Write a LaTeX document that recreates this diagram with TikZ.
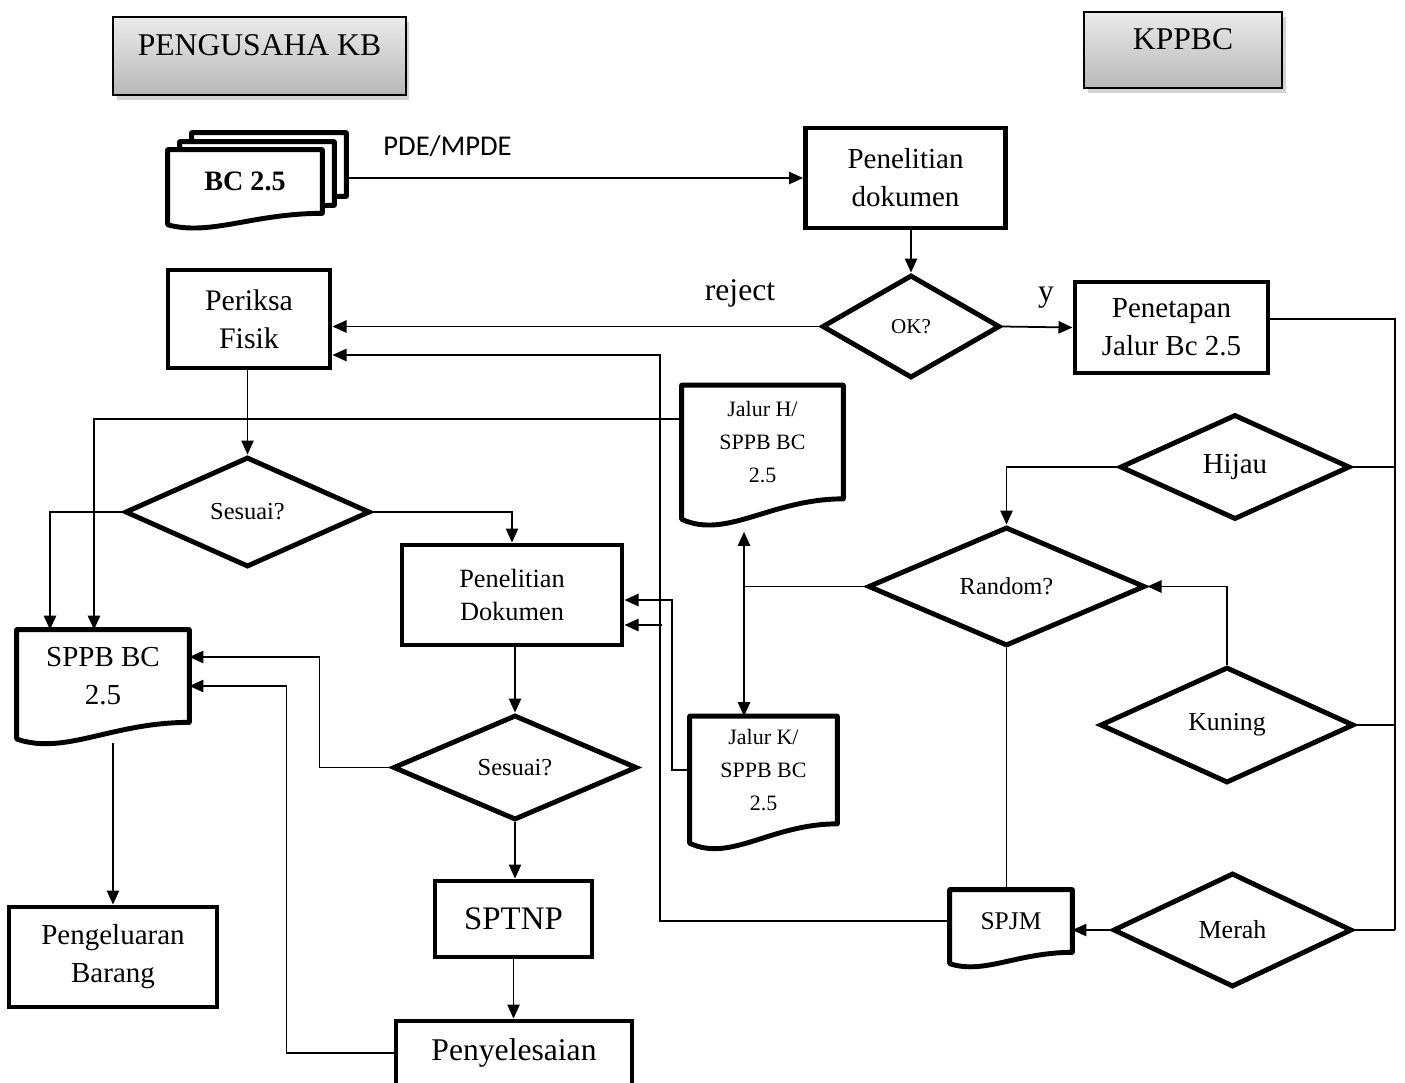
\documentclass[tikz,border=0pt]{standalone}
\usepackage{fontspec}
\setmainfont{Liberation Serif}
\newfontfamily\calfont{Carlito}
\usetikzlibrary{shapes.geometric,arrows.meta,calc,shadows,backgrounds}

\newcommand\fsBig{\fontsize{18}{22}\selectfont}
\newcommand\fsMid{\fontsize{16.5}{21.6}\selectfont}
\newcommand\fsSml{\fontsize{13.9}{17}\selectfont}
\newcommand\fsDoc{\fontsize{12.5}{18.8}\selectfont}

% document symbol with wavy bottom, drawn behind the node text
\newcommand\docwave[1]{%
  \begin{pgfonlayer}{background}
  \draw[docline] let \p1=(#1.north west), \p2=(#1.south east),
    \n1={\x2-\x1}, \n2={\y1-\y2} in
    (\p1) -- (\x2,\y1) -- (\p2)
    .. controls (\x2-0.45*\n1,\y2) and (\x1+0.28*\n1,\y2-0.36*\n2)
    .. (\x1,\y2-0.18*\n2) -- cycle;
  \end{pgfonlayer}}

\begin{document}
\begin{tikzpicture}[x=0.02cm, y=-0.02cm,
      box/.style={rectangle, draw, line width=2.8pt, align=center, font=\fsMid},
      dec/.style={diamond, draw, line width=2.8pt, inner sep=0pt, align=center, font=\fsSml},
      doc/.style={rectangle, inner sep=0pt, align=center, font=\fsDoc},
      docline/.style={draw, fill=white, line width=2.8pt, line join=round},
      head/.style={rectangle, draw, line width=1pt, top color=white!92!black, bottom color=black!28,
        drop shadow={opacity=0.35, shadow xshift=2pt, shadow yshift=-3pt}, font=\fsBig},
      conn/.style={line width=1pt},
      arrow/.style={line width=1pt, -{Triangle[length=8pt, width=7pt]}}
    ]
      \useasboundingbox (0,0) rectangle (1405,1082);

      % headers
      \node[head, minimum width=5.86cm, minimum height=1.56cm] (kb)    at (259.5,56) {\raisebox{13pt}{PENGUSAHA KB}};
      \node[head, minimum width=3.96cm, minimum height=1.52cm] (kppbc) at (1183,50)  {\raisebox{12pt}{KPPBC}};

      % pengusaha side
      \node[doc, minimum width=3.08cm, minimum height=1.26cm] (bcc) at (269,164.5) {};
      \node[doc, minimum width=3.08cm, minimum height=1.26cm] (bcb) at (257,173.5) {};
      \node[doc, minimum width=3.08cm, minimum height=1.26cm, font=\bfseries\fontsize{16}{20}\selectfont] (bca) at (245,181.5) {BC 2.5};
      \docwave{bcc} \docwave{bcb} \docwave{bca}

      \node[box, minimum width=3.24cm, minimum height=1.96cm, font=\fontsize{17}{21.6}\selectfont] (periksa) at (249,319) {Periksa\\Fisik};
      \node[dec, minimum width=4.9cm, minimum height=2.2cm] (ses1) at (247.5,512) {Sesuai?};
      \node[doc, minimum width=3.44cm, minimum height=1.84cm, font=\fsMid] (sppb) at (103,676) {SPPB BC\\2.5};
      \docwave{sppb}
      \node[box, minimum width=4.16cm, minimum height=2cm] (keluar) at (113,957) {Pengeluaran\\Barang};
      \node[box, minimum width=4.4cm, minimum height=2cm, font=\fontsize{15}{19.3}\selectfont] (pendok2) at (512,595) {Penelitian\\Dokumen};
      \node[dec, minimum width=4.88cm, minimum height=2.1cm] (ses2) at (515,767.5) {Sesuai?};
      \node[box, minimum width=3.14cm, minimum height=1.52cm, font=\fontsize{18.7}{22}\selectfont] (sptnp) at (513.5,919) {SPTNP};
      \node[box, minimum width=4.72cm, minimum height=1.28cm, font=\fsBig] (penyel) at (514,1053) {Penyelesaian};

      % kppbc side
      \node[box, minimum width=4cm, minimum height=2cm] (pendok) at (905.5,178) {Penelitian\\dokumen};
      \node[dec, minimum width=3.56cm, minimum height=2.06cm, font=\fontsize{12}{14}\selectfont] (ok) at (911,326.5) {OK?};
      \node[box, minimum width=3.86cm, minimum height=1.82cm] (tetap) at (1171.5,327.5) {Penetapan\\Jalur Bc 2.5};
      \node[dec, minimum width=4.6cm, minimum height=2.1cm, font=\fsMid] (hijau) at (1235,467) {Hijau};
      \node[dec, minimum width=5.08cm, minimum height=2.32cm, font=\fontsize{14.7}{18}\selectfont] (kuning) at (1227,725) {Kuning};
      \node[dec, minimum width=4.78cm, minimum height=2.28cm, font=\fontsize{14.8}{18}\selectfont] (merah) at (1232.5,930) {Merah};
      \node[dec, minimum width=5.54cm, minimum height=2.38cm] (rnd) at (1006.5,586.5) {Random?};
      \node[doc, minimum width=3.22cm, minimum height=2.26cm] (jalurH) at (762.5,442) {Jalur H/\\SPPB BC\\2.5};
      \node[doc, minimum width=2.94cm, minimum height=2.14cm] (jalurK) at (763.5,770) {Jalur K/\\SPPB BC\\2.5};
      \node[doc, minimum width=2.44cm, minimum height=1.24cm, font=\fontsize{14.5}{18}\selectfont] (spjm) at (1011,921) {SPJM};
      \docwave{jalurH} \docwave{jalurK} \docwave{spjm}

      % labels
      \node[font=\calfont\fontsize{16.3}{20}\selectfont] (pde) at (447.5,146) {PDE/MPDE};
      \node[font=\fsBig] (reject) at (740,293) {reject};
      \node[font=\fsBig] (ya)     at (1046,298) {y};

      % connectors
      \draw[arrow] (bcc.east |- pendok.west) -- (pendok.west);
      \draw[arrow] (ok.north |- pendok.south) -- (ok.north);
      \draw[arrow] (ok.west) -- (ok.west -| periksa.east);
      \draw[arrow] (ok.east) -- (tetap.west);

      \coordinate (bustop) at (1395,319);
      \coordinate (busbot) at (1395,930);
      \draw[conn] (tetap.east |- bustop) -- (bustop) -- (busbot);
      \draw[conn] (hijau.east) -- (hijau.east -| bustop);
      \draw[conn] (kuning.east) -- (kuning.east -| bustop);
      \draw[conn] (merah.east) -- (busbot);

      \draw[arrow] (hijau.west) -| (rnd.north);
      \draw[arrow] (kuning.north) |- (rnd.east);
      \draw[arrow] (merah.west) -- (merah.west -| spjm.east);
      \draw[conn] (rnd.south) -- (rnd.south |- spjm.north);

      \coordinate (split) at (744,586.5);
      \draw[conn] (rnd.west) -- (split);
      \draw[arrow] (split) -- ($(split |- jalurH.south)+(0,33)$);
      \draw[arrow] (split) -- (split |- jalurK.north);

      \draw[arrow] ($(jalurH.west)+(0,-23)$) -| ($(sppb.north)+(-9,0)$);
      \draw[arrow] (ses1.west) -| ($(sppb.north)+(-53,0)$);
      \draw[arrow] (ses1.east) -| (pendok2.north);
      \draw[arrow] (ses1.north |- periksa.south) -- (ses1.north);
      \draw[arrow] (ses2.north |- pendok2.south) -- (ses2.north);
      \draw[arrow] (ses2.west) -- ++(-71,0) |- ($(sppb.east)+(0,-19)$);
      \draw[arrow] (ses2.south) -- (ses2.south |- sptnp.north);
      \draw[arrow] (sptnp.south) -- (sptnp.south |- penyel.north);
      \draw[arrow] (penyel.west) -- ++(-107,0) |- ($(sppb.east)+(0,10)$);
      \draw[arrow] ($(keluar.north |- sppb.south)+(0,21)$) -- (keluar.north);

      \draw[arrow] (spjm.west) -- ++(-290,0) |- ($(periksa.east)+(0,36)$);
      \draw[arrow] ($(pendok2.east)+(38,30)$) -- ($(pendok2.east)+(0,30)$);
      \draw[arrow] (jalurK.west) -- ++(-18,0) |- ($(pendok2.east)+(0,5)$);
    \end{tikzpicture}
\end{document}
